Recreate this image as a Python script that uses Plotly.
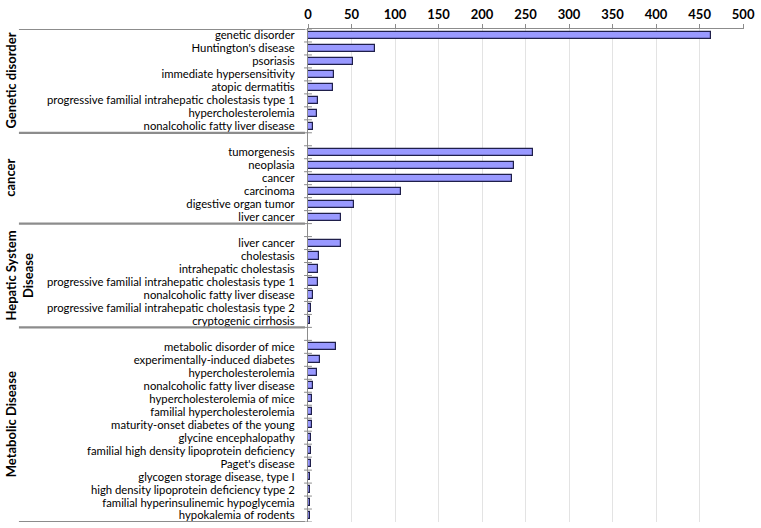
import plotly.graph_objects as go

groups = ["Genetic disorder", "cancer", "Hepatic System<br>Disease", "Metabolic Disease"]

genetic_labels = ["genetic disorder", "Huntington's disease", "psoriasis", "immediate hypersensitivity",
                  "atopic dermatitis", "progressive familial intrahepatic cholestasis type 1",
                  "hypercholesterolemia", "nonalcoholic fatty liver disease"]
genetic_values = [463, 77, 52, 30, 29, 11, 10, 6]

cancer_labels = ["tumorgenesis", "neoplasia", "cancer", "carcinoma", "digestive organ tumor", "liver cancer"]
cancer_values = [258, 237, 234, 107, 53, 38]

hepatic_labels = ["liver cancer", "cholestasis", "intrahepatic cholestasis",
                  "progressive familial intrahepatic cholestasis type 1", "nonalcoholic fatty liver disease",
                  "progressive familial intrahepatic cholestasis type 2", "cryptogenic cirrhosis"]
hepatic_values = [38, 13, 12, 12, 6, 4, 2]

metabolic_labels = ["metabolic disorder of mice", "experimentally-induced diabetes", "hypercholesterolemia",
                    "nonalcoholic fatty liver disease", "hypercholesterolemia of mice",
                    "familial hypercholesterolemia", "maturity-onset diabetes of the young",
                    "glycine encephalopathy", "familial high density lipoprotein deficiency",
                    "Paget's disease", "glycogen storage disease, type I",
                    "high density lipoprotein deficiency type 2",
                    "familial hyperinsulinemic hypoglycemia", "hypokalemia of rodents"]
metabolic_values = [32, 14, 10, 6, 5, 4.5, 4.5, 4, 4, 4, 2, 2, 2, 2]

x_ticks = [0, 50, 100, 150, 200, 250, 300, 350, 400, 450, 500]

group_labels = [genetic_labels, cancer_labels, hepatic_labels, metabolic_labels]
group_values = [genetic_values, cancer_values, hepatic_values, metabolic_values]

# slot positions: each group after the first starts with one empty slot
pos, labs, vals = [], [], []
bounds = [-0.5]
centers = []
slot = 0
for gi, (ls, vs) in enumerate(zip(group_labels, group_values)):
    start = slot
    if gi > 0:
        slot += 1
    for l, v in zip(ls, vs):
        pos.append(slot)
        labs.append(l)
        vals.append(v)
        slot += 1
    bounds.append(slot - 0.5)
    centers.append((start - 0.5 + slot - 0.5) / 2)
nslots = slot

fig = go.Figure()
fig.add_trace(go.Bar(
    x=vals, y=pos, orientation="h", width=0.55,
    marker=dict(color="#9999FF", line=dict(color="#1F1F4A", width=1.2)),
    hoverinfo="x+text", text=labs, textposition="none",
))

FONT = "Lato"
fig.update_layout(
    width=761, height=528,
    margin=dict(l=308, r=7, t=26, b=6),
    plot_bgcolor="white", paper_bgcolor="white",
    showlegend=False, bargap=0,
    font=dict(family=FONT, color="#000000"),
    xaxis=dict(
        side="top", range=[0, 501], tickvals=x_ticks,
        showgrid=True, gridcolor="#E3E3E3", gridwidth=1,
        showline=True, linecolor="#8C8C8C", linewidth=1,
        ticks="outside", ticklen=4, tickcolor="#8C8C8C",
        tickfont=dict(family=FONT, size=13, color="#000", weight="bold"),
        ticklabeloverflow="allow",
        zeroline=False, fixedrange=True,
    ),
    yaxis=dict(
        range=[nslots - 0.5, -0.5], tickvals=pos, ticktext=labs,
        showgrid=False, zeroline=False,
        showline=True, linecolor="#8C8C8C", linewidth=1,
        ticks="", ticklabelstandoff=10,
        tickfont=dict(family=FONT, size=11.3, color="#000"),
    ),
)

shapes = []
# tick marks at slot boundaries, crossing the value axis
for b in range(nslots + 1):
    shapes.append(dict(type="line", xref="paper", yref="y", x0=-0.009, x1=0.009,
                       y0=b - 0.5, y1=b - 0.5, line=dict(color="#8C8C8C", width=1)))
# group dividers across label area
for b in bounds:
    shapes.append(dict(type="line", xref="paper", yref="y", x0=-0.663, x1=-0.007,
                       y0=b, y1=b, line=dict(color="#8C8C8C", width=2.2)))
fig.update_layout(shapes=shapes)

for g, c in zip(groups, centers):
    fig.add_annotation(text=g, xref="paper", yref="y", x=-0.705, y=c, xanchor="left", yanchor="middle",
                       textangle=-90, showarrow=False,
                       font=dict(family=FONT, size=13, color="#000", weight="bold"))

fig.write_html("out.html", config={"displayModeBar": False},
               post_script="document.body.style.margin='0';")
